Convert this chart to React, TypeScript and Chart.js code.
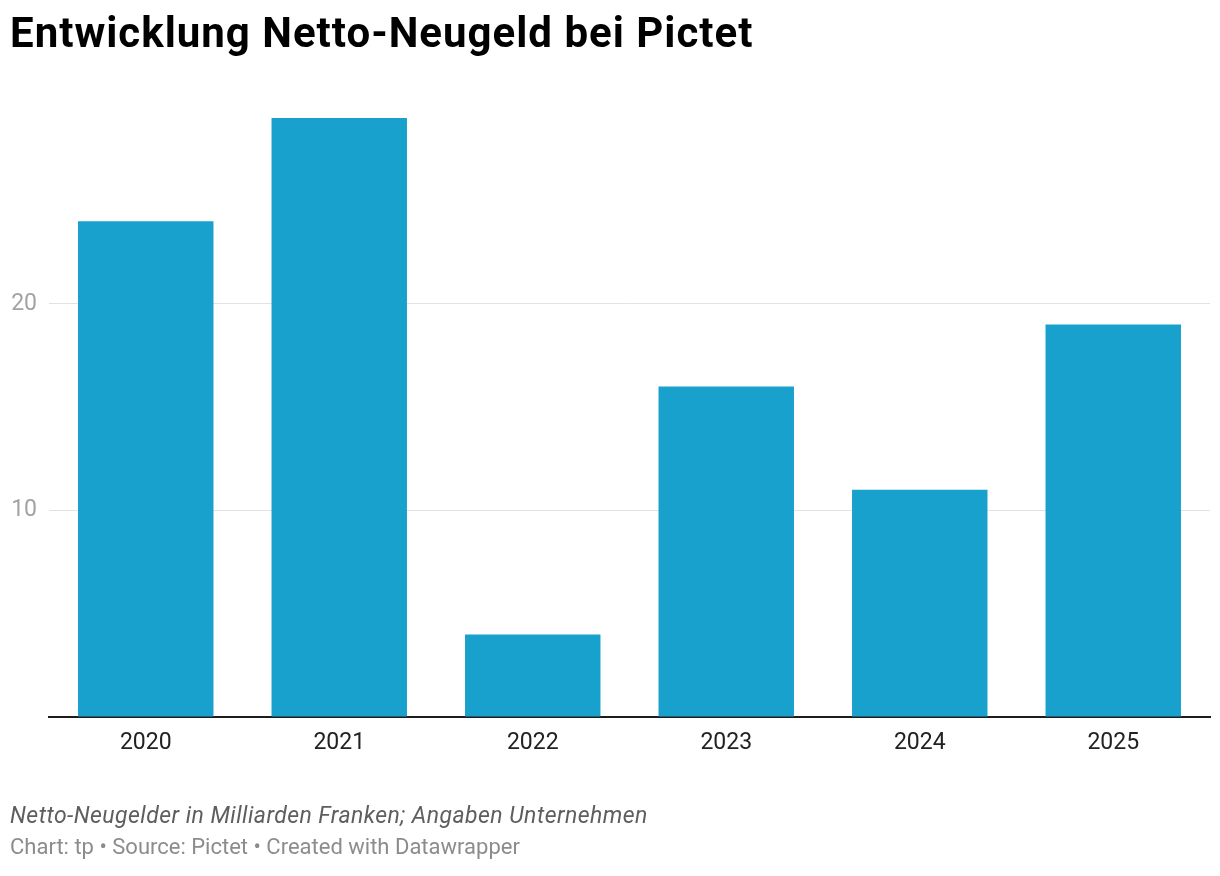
import React, { useEffect, useRef } from "react";
import { Chart, registerables } from "chart.js";

Chart.register(...registerables);

const years = ["2020", "2021", "2022", "2023", "2024", "2025"];
const netNewMoney = [24, 29, 4, 16, 11, 19];
const yTicks = [0, 10, 20];
const yMax = 29;

const title = "Entwicklung Netto-Neugeld bei Pictet";
const subtitle = "Netto-Neugelder in Milliarden Franken; Angaben Unternehmen";
const credit = "Chart: tp • Source: Pictet • Created with Datawrapper";

export default function App() {
  const ref = useRef<HTMLCanvasElement>(null);

  useEffect(() => {
    document.body.style.margin = "0";
    const chart = new Chart(ref.current!, {
      type: "bar",
      data: {
        labels: years,
        datasets: [
          {
            data: netNewMoney,
            backgroundColor: "#18a1cd",
            categoryPercentage: 1,
            barPercentage: 0.7,
          },
        ],
      },
      options: {
        animation: false,
        responsive: false,
        maintainAspectRatio: false,
        layout: { padding: { left: 0, right: 10, top: 118, bottom: 0 } },
        plugins: { legend: { display: false }, tooltip: { enabled: false } },
        scales: {
          x: {
            grid: { display: false, drawTicks: false },
            border: { display: true, color: "#1d1d1d", width: 2 },
            ticks: {
              color: "#222222",
              font: { family: "Roboto", size: 23 },
              padding: 12,
              maxRotation: 0,
            },
            afterFit: (s: any) => {
              s.height = 159;
            },
          },
          y: {
            min: 0,
            max: yMax,
            border: { display: false },
            grid: {
              drawTicks: false,
              color: (ctx: any) =>
                ctx.tick && ctx.tick.value === 0 ? "rgba(0,0,0,0)" : "#e2e2e2",
              lineWidth: 1,
            },
            afterBuildTicks: (s: any) => {
              s.ticks = yTicks.map((v) => ({ value: v }));
            },
            ticks: {
              color: "#a3a3a3",
              font: { family: "Roboto", size: 23 },
              padding: 12,
              callback: (v: any) => (v === 0 ? "" : String(v)),
            },
            afterFit: (s: any) => {
              s.width = 49;
            },
          },
        },
      },
    });
    return () => chart.destroy();
  }, []);

  return (
    <div style={{ position: "relative", width: 1220, height: 876, background: "#fff", fontFamily: "Roboto" }}>
      <canvas ref={ref} width={1220} height={876} style={{ position: "absolute", left: 0, top: 0 }} />
      <div
        style={{
          position: "absolute",
          left: 10,
          top: 12,
          fontSize: 42,
          lineHeight: "42px",
          fontWeight: 700,
          letterSpacing: "1px",
          color: "#000",
          whiteSpace: "nowrap",
        }}
      >
        {title}
      </div>
      <div
        style={{
          position: "absolute",
          left: 10,
          top: 804,
          fontSize: 23,
          lineHeight: "23px",
          fontStyle: "italic",
          letterSpacing: "0.45px",
          color: "#5e5e5e",
          whiteSpace: "nowrap",
        }}
      >
        {subtitle}
      </div>
      <div
        style={{
          position: "absolute",
          left: 10,
          top: 836,
          fontSize: 22,
          lineHeight: "22px",
          color: "#8c8c8c",
          whiteSpace: "nowrap",
        }}
      >
        {credit}
      </div>
    </div>
  );
}
